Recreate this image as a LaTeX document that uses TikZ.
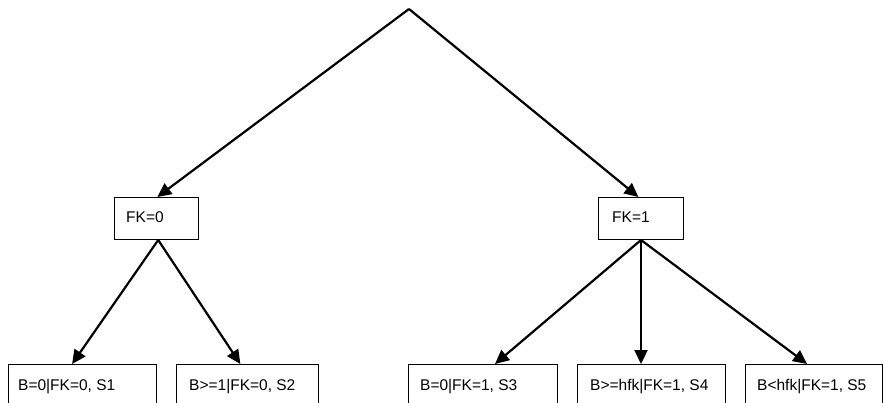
\documentclass[tikz,border=0pt]{standalone}
\usepackage{fontspec}
\setmainfont{Liberation Sans}
\usetikzlibrary{arrows.meta,calc}
\begin{document}
\begin{tikzpicture}[x=1pt,y=-1pt,
  box/.style={draw=black,line width=1pt,minimum height=42pt,inner sep=0pt,anchor=north west},
  leaf/.style={draw=black,line width=1pt,minimum height=60pt,inner sep=0pt,anchor=north west},
  txt/.style={font=\fontsize{15.5}{18}\selectfont,inner sep=0pt,anchor=base west},
  conn/.style={line width=2.2pt,-{Triangle[length=14pt,width=13pt]}}]
\useasboundingbox (0,0) rectangle (883,403);
\clip (0,0) rectangle (883,403);
\coordinate (apex) at (409,9);
\node[box,minimum width=84pt] (fk0) at (114,197) {};
\node[box,minimum width=85pt] (fk1) at (598,197) {};
\node[txt] (t0) at (126,223) {FK=0};
\node[txt] (t1) at (612,223) {FK=1};
\node[leaf,minimum width=148pt] (b1) at (8,364) {};
\node[leaf,minimum width=142pt] (b2) at (176,364) {};
\node[leaf,minimum width=149pt] (b3) at (408,364) {};
\node[leaf,minimum width=148pt] (b4) at (577,364) {};
\node[leaf,minimum width=137pt] (b5) at (745,364) {};
\node[txt] (l1) at (18,390) {B=0|FK=0, S1};
\node[txt] (l2) at (189,390) {B>=1|FK=0, S2};
\node[txt] (l3) at (420,390) {B=0|FK=1, S3};
\node[txt] (l4) at (590,390) {B>=hfk|FK=1, S4};
\node[txt] (l5) at (757,390) {B<hfk|FK=1, S5};
\coordinate (s0) at ($(fk0.south west)!0.52!(fk0.south east)$);
\coordinate (s1) at ($(fk1.south west)!0.50!(fk1.south east)$);
\draw[conn] (apex) -- ($(fk0.north west)!0.51!(fk0.north east)$);
\draw[conn] (apex) -- ($(fk1.north west)!0.47!(fk1.north east)$);
\draw[conn] (s0) -- ($(b1.north west)!0.43!(b1.north east)$);
\draw[conn] (s0) -- ($(b2.north west)!0.45!(b2.north east)$);
\draw[conn] (s1) -- ($(b3.north west)!0.58!(b3.north east)$);
\draw[conn] (s1) -- (s1 |- b4.north);
\draw[conn] (s1) -- ($(b5.north west)!0.45!(b5.north east)$);
\end{tikzpicture}
\end{document}
